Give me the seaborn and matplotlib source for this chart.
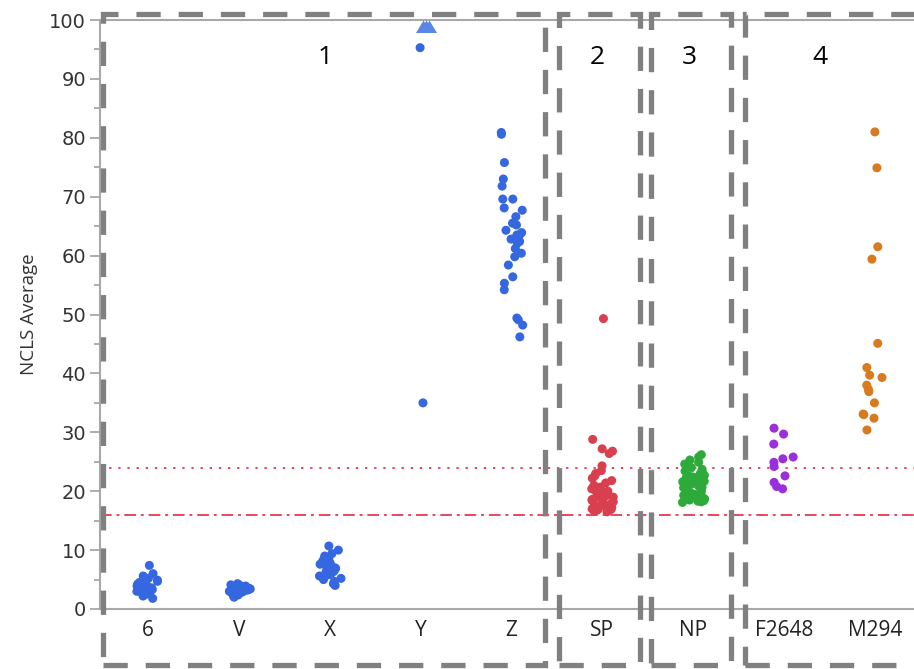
import numpy as np
import pandas as pd
import matplotlib
matplotlib.use("Agg")
import matplotlib.pyplot as plt
import seaborn as sns
from matplotlib.patches import Rectangle
from matplotlib.ticker import MultipleLocator

# === data ===
categories = ["6", "V", "X", "Y", "Z", "SP", "NP", "F2648", "M294"]

vals_6 = [7.4, 6.0, 5.6, 5.2, 4.9, 4.7, 4.5, 4.4, 4.2, 4.0, 3.9, 3.7, 3.6,
          3.5, 3.3, 3.2, 3.0, 2.9, 2.7, 2.5, 2.2, 1.8]
vals_v = [4.3, 4.1, 4.0, 3.9, 3.8, 3.7, 3.6, 3.5, 3.4, 3.3, 3.3, 3.2, 3.1,
          3.0, 2.9, 2.8, 2.7, 2.6, 2.5, 2.4, 2.2, 2.0]
vals_x = [10.7, 10.0, 9.4, 9.0, 8.7, 8.5, 8.2, 8.0, 7.8, 7.6, 7.4, 7.2, 7.0,
          6.9, 6.8, 6.6, 6.5, 6.4, 6.3, 6.1, 6.0, 5.8, 5.6, 5.4, 5.2, 5.0,
          4.7, 4.3, 4.0]
vals_y = [95.3, 35.0]
vals_y_over = [100, 100, 100]  # off-scale values, drawn as triangles at the top
vals_z = [80.9, 80.6, 75.8, 73.0, 71.8, 69.6, 69.6, 68.1, 67.7, 66.6, 65.5,
          65.2, 64.3, 63.9, 63.5, 63.5, 62.8, 62.4, 62.1, 61.2, 60.4, 59.8,
          58.4, 56.4, 55.3, 54.2, 49.4, 49.1, 48.2, 46.2]
vals_sp = [49.3, 28.8, 27.2, 26.8, 26.4, 24.3, 23.5, 23.0, 22.6, 22.2, 21.8,
           21.4, 21.0, 20.7, 20.4, 20.1, 20.0, 19.8, 19.5, 19.3, 19.2, 19.0,
           18.8, 18.6, 18.5, 18.4, 18.2, 18.0, 17.8, 17.6, 17.5, 17.3, 17.2,
           17.1, 17.0, 16.9, 16.8, 16.7, 16.6, 16.5]
vals_np = [26.2, 25.8, 25.3, 24.9, 24.6, 24.3, 24.0, 23.7, 23.4, 23.2, 23.0,
           22.7, 22.5, 22.3, 22.1, 21.9, 21.7, 21.5, 21.3, 21.1, 20.9, 20.7,
           20.6, 20.4, 20.2, 20.0, 19.9, 19.7, 19.6, 19.4, 19.3, 19.2, 19.0,
           18.9, 18.8, 18.7, 18.6, 18.5, 18.4, 18.3, 18.2, 18.1, 21.6, 20.8,
           20.1, 19.5, 19.1, 18.7, 22.4, 21.2]
vals_f2648 = [30.7, 29.7, 28.0, 25.8, 25.5, 24.9, 24.2, 22.6, 21.5, 20.8, 20.4]
vals_m294 = [81.0, 74.9, 61.5, 59.4, 45.1, 41.0, 39.7, 39.3, 38.0, 37.3, 36.9,
             35.0, 33.1, 33.0, 32.4, 30.4]

upper_limit = 24
lower_limit = 16

group_labels = ["1", "2", "3", "4"]

colors = {"6": "#3567E0", "V": "#3567E0", "X": "#3567E0", "Y": "#3567E0",
          "Z": "#3567E0", "SP": "#D8404F", "NP": "#2EAA3A",
          "F2648": "#9A30DD", "M294": "#D87A20"}

all_vals = [vals_6, vals_v, vals_x, vals_y, vals_z, vals_sp, vals_np,
            vals_f2648, vals_m294]
df = pd.DataFrame({
    "cat": [c for c, v in zip(categories, all_vals) for _ in v],
    "val": [x for v in all_vals for x in v],
})
df_over = pd.DataFrame({"cat": ["Y"] * len(vals_y_over), "val": vals_y_over})

# === figure ===
sns.set_theme(style="white")
np.random.seed(3)

fig = plt.figure(figsize=(9.14, 6.69), dpi=100)
ax = fig.add_axes([100 / 914, 1 - 609 / 669, 1 - 100 / 914, (609 - 20) / 669])

sns.stripplot(data=df, x="cat", y="val", hue="cat", order=categories,
              palette=colors, jitter=0.13, size=6.5, linewidth=0,
              legend=False, ax=ax, zorder=3)

# triangle with its apex on the data point (off-scale marker)
tri = [(0, 0), (-0.6, -1), (0.6, -1), (0, 0)]
sns.stripplot(data=df_over, x="cat", y="val", order=categories,
              color="#5A86E6", marker=tri, jitter=0.16, size=18,
              linewidth=0, ax=ax, zorder=3, clip_on=False)

ax.axhline(upper_limit, color="#E8485C", lw=1.4, ls=(0, (1.2, 3.5)), zorder=2)
ax.axhline(lower_limit, color="#E8485C", lw=1.4, ls=(0, (6, 2.5, 1.5, 2.5)), zorder=2)

ax.set_ylim(0, 100)
ax.set_xlim(-0.53, 8.43)
ax.yaxis.set_major_locator(MultipleLocator(10))
ax.yaxis.set_minor_locator(MultipleLocator(5))
ax.tick_params(axis="y", which="major", length=7, width=1.2, color="#A0A0A0",
               labelsize=14, labelcolor="#333333", left=True, pad=3)
ax.tick_params(axis="y", which="minor", length=4, width=1.2, color="#A0A0A0", left=True)
ax.tick_params(axis="x", length=0, pad=8)
for lab in ax.get_xticklabels():
    lab.set_fontfamily("Open Sans")
    lab.set_fontsize(15)
    lab.set_color("#222222")
ax.set_xlabel("")
ax.set_ylabel("NCLS Average", fontsize=13.5, color="#333333", labelpad=8,
              family="Open Sans")

for side in ["left", "bottom", "top"]:
    ax.spines[side].set_color("#A8A8A8")
    ax.spines[side].set_linewidth(1.5)
ax.spines["right"].set_visible(False)

# dashed group boxes (figure pixel coordinates)
W, H = 914, 669
boxes = [(103, 545), (559, 640), (651, 731), (745, 925)]
top, bottom = 14, 665
for x0, x1 in boxes:
    rect = Rectangle((x0 / W, 1 - bottom / H), (x1 - x0) / W, (bottom - top) / H,
                     transform=fig.transFigure, fill=False, edgecolor="#808080",
                     lw=3.8, ls=(0, (4.6, 3.4)), zorder=10, clip_on=False)
    fig.add_artist(rect)

label_x = [325, 597, 689, 820]
for lab, xp in zip(group_labels, label_x):
    fig.text(xp / W, 1 - 58 / H, lab, ha="center", va="center",
             fontsize=19, family="Open Sans", color="black")

fig.savefig("out.png", dpi=100)
